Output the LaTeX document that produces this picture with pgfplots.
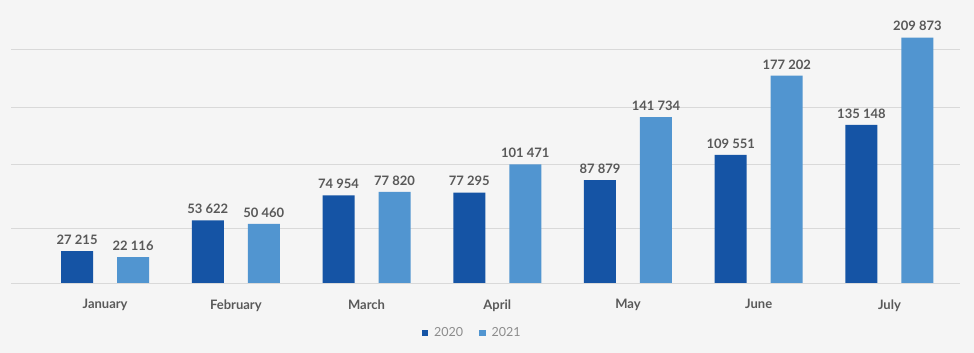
\documentclass[border=0pt]{standalone}
\usepackage{pgfplots}
\pgfplotsset{compat=1.18}
\usepackage{fontspec}
\setmainfont{Lato}
\definecolor{bg}{HTML}{F5F5F5}
\definecolor{gridc}{HTML}{D9D9D9}
\definecolor{dark}{HTML}{1554A5}
\definecolor{light}{HTML}{5195D0}
\definecolor{txt}{HTML}{595959}
\definecolor{legtxt}{HTML}{8C8C8C}
\begin{document}
\begin{tikzpicture}[x=1pt,y=1pt]
\fill[bg] (0,0) rectangle (974,353);
\begin{axis}[
  at={(11pt,70pt)}, anchor=south west,
  scale only axis, width=949pt, height=270pt,
  xmin=-0.72, xmax=6.54,
  ymin=0, ymax=230850,
  axis line style={draw=none},
  scaled y ticks=false,
  ytick={0,47000,101700,150500,200000},
  yticklabels={},
  ymajorgrids, grid style={gridc, line width=0.8pt},
  major tick length=0pt,
  xtick={0,1,2,3,4,5,6},
  xticklabels={January,February,March,April,May,June,July},
  xticklabel style={font=\bfseries\fontsize{13}{15}\selectfont, text=txt, yshift=-13pt},
  clip=false,
  ybar, bar width=32pt,
  point meta=explicit symbolic,
  nodes near coords,
  nodes near coords style={font=\bfseries\fontsize{13}{15}\selectfont, text=txt, anchor=south, yshift=3pt},
  legend style={at={(0.486,-0.185)}, anchor=center, draw=none, fill=none,
    legend columns=2, font=\fontsize{12.5}{14}\selectfont, text=legtxt,
    /tikz/every odd column/.append style={column sep=4pt},
    /tikz/every even column/.append style={column sep=14pt}},
  legend image code/.code={\fill[#1] (0pt,-3pt) rectangle (6.3pt,3.3pt);},
]
\addplot[fill=dark, draw=none, bar shift=-28pt] coordinates {
  (0,27215)[27 215] (1,53622)[53 622] (2,74954)[74 954] (3,77295)[77 295]
  (4,87879)[87 879] (5,109551)[109 551] (6,135148)[135 148]};
\addplot[fill=light, draw=none, bar shift=28pt] coordinates {
  (0,22116)[22 116] (1,50460)[50 460] (2,77820)[77 820] (3,101471)[101 471]
  (4,141734)[141 734] (5,177202)[177 202] (6,209873)[209 873]};
\legend{2020,2021}
\end{axis}
\end{tikzpicture}
\end{document}
